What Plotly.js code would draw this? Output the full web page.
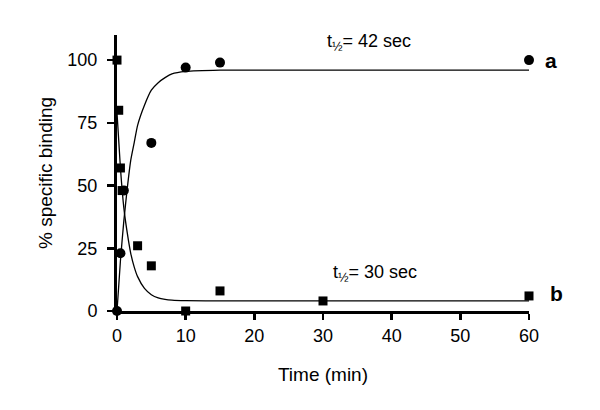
<!DOCTYPE html>
<html>
<head>
<meta charset="utf-8">
<script src="https://cdn.plot.ly/plotly-3.0.1.min.js"></script>
<style>
  html, body { margin: 0; padding: 0; background: #fff; }
  #chart { width: 600px; height: 410px; }
</style>
</head>
<body>
<div id="chart"></div>
<script>
// measured points, curve a (circles)
const timeA = [0, 0.5, 1, 5, 10, 15, 60];
const bindA = [0, 23, 48, 67, 97, 99, 100];

// measured points, curve b (squares)
const timeB = [0, 0.25, 0.5, 0.75, 3, 5, 10, 15, 30, 60];
const bindB = [100, 80, 57, 48, 26, 18, 0, 8, 4, 6];

// fitted lines
const fitTimeA = [0, 0.5, 1, 1.5, 2, 2.5, 3, 4, 5, 6, 7, 8, 10, 15, 60];
const fitBindA = [0, 20, 36, 49, 60, 67, 74, 82, 88, 91, 93, 94.5, 95.5, 96, 96];
const fitTimeB = [0, 0.5, 1, 1.5, 2, 2.5, 3, 4, 5, 6, 7, 8, 10, 15, 60];
const fitBindB = [79, 57, 41, 31, 23, 17.6, 13.7, 9, 6.5, 5.2, 4.6, 4.3, 4.1, 4, 4];

const xTicks = [0, 10, 20, 30, 40, 50, 60];
const yTicks = [0, 25, 50, 75, 100];

const family = "Liberation Sans, Arial, Helvetica, sans-serif";
const tickFont = { family: family, size: 18, color: "#000" };
const titleFont = { family: family, size: 19, color: "#000" };
const noteFont = { family: family, size: 18, color: "#000" };
const labelFont = { family: family, size: 21, color: "#000" };

const traces = [
  {
    x: fitTimeA, y: fitBindA, type: "scatter", mode: "lines",
    line: { color: "#000", width: 1.3, shape: "spline", smoothing: 0.6 },
    cliponaxis: false, hoverinfo: "skip",
  },
  {
    x: fitTimeB, y: fitBindB, type: "scatter", mode: "lines",
    line: { color: "#000", width: 1.3, shape: "spline", smoothing: 0.6 },
    cliponaxis: false, hoverinfo: "skip",
  },
  {
    x: timeA, y: bindA, type: "scatter", mode: "markers",
    marker: { symbol: "circle", size: 10, color: "#000" },
    cliponaxis: false,
  },
  {
    x: timeB, y: bindB, type: "scatter", mode: "markers",
    marker: { symbol: "square", size: 9, color: "#000" },
    cliponaxis: false,
  },
];

const layout = {
  width: 600, height: 410,
  margin: { l: 117, r: 71, t: 35, b: 99 },
  paper_bgcolor: "#fff", plot_bgcolor: "#fff",
  showlegend: false,
  font: tickFont,
  xaxis: {
    range: [0, 60], tickvals: xTicks, ticktext: xTicks.map(String),
    showgrid: false, zeroline: false,
    showline: true, linecolor: "#000", linewidth: 3,
    ticks: "outside", ticklen: 6, tickwidth: 2.5, tickcolor: "#000",
    tickfont: tickFont,
    title: { text: "Time (min)", font: titleFont, standoff: 24 },
  },
  yaxis: {
    range: [0, 110], tickvals: yTicks, ticktext: yTicks.map(String),
    showgrid: false, zeroline: false,
    showline: true, linecolor: "#000", linewidth: 3,
    ticks: "outside", ticklen: 7, tickwidth: 2.5, tickcolor: "#000",
    ticklabelstandoff: 6,
    tickfont: tickFont,
    title: { text: "% specific binding", font: titleFont, standoff: 10 },
  },
  annotations: [
    { x: 30.3, y: 107, xref: "x", yref: "y", xanchor: "left", text: "t<sub>½</sub>= 42 sec",
      showarrow: false, font: noteFont },
    { x: 31.2, y: 14.8, xref: "x", yref: "y", xanchor: "left", text: "t<sub>½</sub>= 30 sec",
      showarrow: false, font: noteFont },
    { x: 1.053, y: 100, xref: "paper", yref: "y", text: "<b>a</b>",
      showarrow: false, xanchor: "center", font: labelFont },
    { x: 1.066, y: 7, xref: "paper", yref: "y", text: "<b>b</b>",
      showarrow: false, xanchor: "center", font: labelFont },
  ],
};

Plotly.newPlot("chart", traces, layout, { displayModeBar: false, staticPlot: true });
</script>
</body>
</html>
